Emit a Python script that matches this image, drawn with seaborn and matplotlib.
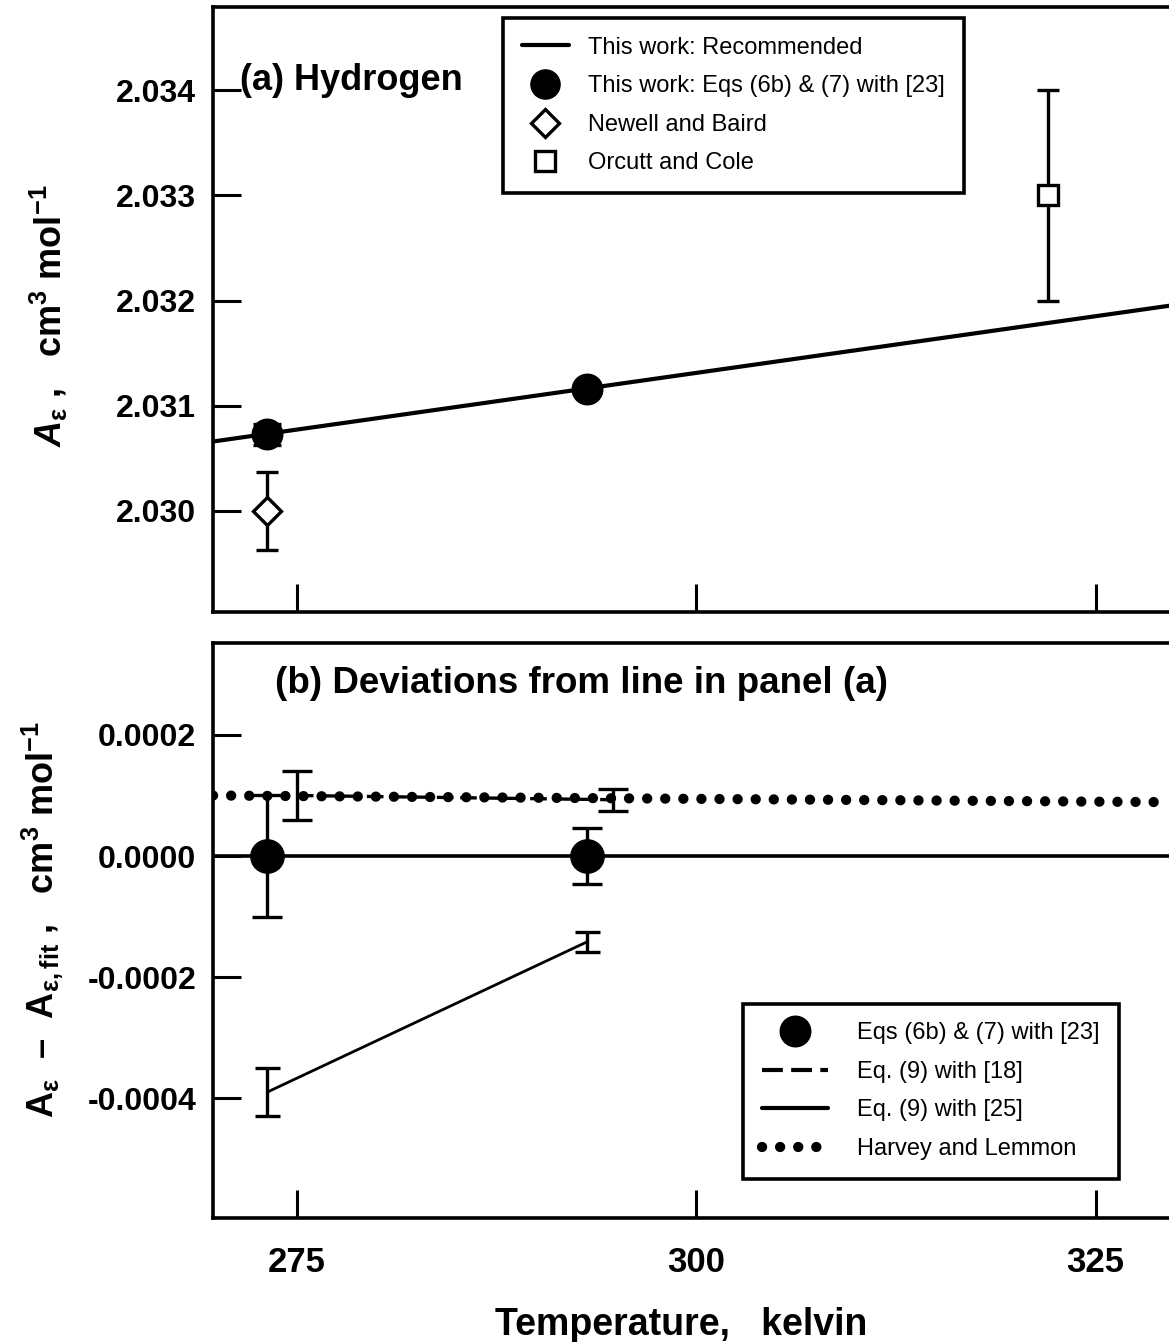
import numpy as np
import pandas as pd
import matplotlib
matplotlib.use('Agg')
import matplotlib.pyplot as plt
from matplotlib.lines import Line2D
from matplotlib.ticker import FormatStrFormatter
import seaborn as sns

### DATA

# panel (a) : A_eps of hydrogen
line_T = [269.75, 329.6]          # recommended line
line_A = [2.03066, 2.03195]

ours_T = [273.15, 293.15]         # Eqs (6b) & (7) with [23]
ours_A = [2.03073, 2.03116]
ours_err = [0.0001, 0.00003]

newell_T = [273.15]
newell_A = [2.0300]
newell_err = [0.00037]

orcutt_T = [322.0]
orcutt_A = [2.0330]
orcutt_err = [0.0010]

# panel (b) : deviations from the line in panel (a)
zero_T = [269.75, 329.6]
zero_dev = [0.0, 0.0]

dev_ours_T = [273.15, 293.15]
dev_ours = [0.0, 0.0]
dev_ours_err = [0.0001, 0.000046]

eq9_18_T = [275.0, 294.8]
eq9_18 = [0.0001, 0.000093]
eq9_18_err = [0.00004, 0.000018]

eq9_25_T = [273.15, 293.15]
eq9_25 = [-0.00039, -0.000142]
eq9_25_err = [0.00004, 0.000017]

hl_T = [269.75, 329.6]
hl_dev = [0.0001, 0.000089]

labels_a = ['This work: Recommended', 'This work: Eqs (6b) & (7) with [23]',
            'Newell and Baird', 'Orcutt and Cole']
labels_b = ['Eqs (6b) & (7) with [23]', 'Eq. (9) with [18]',
            'Eq. (9) with [25]', 'Harvey and Lemmon']

xticks = [275, 300, 325]
yticks_a = [2.030, 2.031, 2.032, 2.033, 2.034]
yticks_b = [-0.0004, -0.0002, 0.0, 0.0002]

### STYLE

sns.set_style('ticks')
plt.rcParams['font.family'] = ['Liberation Sans', 'DejaVu Sans']
plt.rcParams['font.weight'] = 'bold'
plt.rcParams['mathtext.fontset'] = 'custom'
plt.rcParams['mathtext.rm'] = 'Liberation Sans:bold'
plt.rcParams['mathtext.bf'] = 'Liberation Sans:bold'
plt.rcParams['mathtext.it'] = 'Liberation Sans:italic:bold'
plt.rcParams['mathtext.default'] = 'rm'
plt.rcParams['axes.linewidth'] = 2.6
for key in ['text.color', 'axes.edgecolor', 'axes.labelcolor',
            'xtick.color', 'ytick.color']:
    plt.rcParams[key] = 'black'

dotted = (0, (0.01, 1.75))
dashed = (0, (5, 2))
eb = dict(ecolor='k', elinewidth=2.4, capthick=2.4, ls='none')

fig = plt.figure(figsize=(11.69, 13.42), dpi=100)
ax_a = fig.add_axes([0.1822, 0.544, 0.8178, 0.4508])
ax_b = fig.add_axes([0.1822, 0.0924, 0.8178, 0.4285], sharex=ax_a)

### PANEL (a)

sns.lineplot(x=line_T, y=line_A, ax=ax_a, color='k', lw=3.0)
ax_a.errorbar(ours_T, ours_A, yerr=ours_err, fmt='o', ms=22, mfc='k', mec='k',
              capsize=10, **eb)
ax_a.errorbar(newell_T, newell_A, yerr=newell_err, fmt='D', ms=14.5, mfc='white',
              mec='k', mew=2.4, capsize=8, **eb)
ax_a.errorbar(orcutt_T, orcutt_A, yerr=orcutt_err, fmt='s', ms=15, mfc='white',
              mec='k', mew=2.4, capsize=8, **eb)

ax_a.set_xlim(269.75, 329.6)
ax_a.set_ylim(2.02904, 2.03479)
ax_a.set_yticks(yticks_a)
ax_a.yaxis.set_major_formatter(FormatStrFormatter('%.3f'))
ax_a.set_xticks(xticks)
ax_a.tick_params(axis='x', labelbottom=False)
ax_a.set_ylabel(r'$\mathit{A}_{ε}$ ,   cm$^{3}$ mol$^{-1}$', fontsize=26,
                fontweight='bold')
ax_a.yaxis.set_label_coords(-0.15, 0.49)
ax_a.text(0.028, 0.879, '(a) Hydrogen', transform=ax_a.transAxes, fontsize=26,
          fontweight='bold', va='center', ha='left')

handles_a = [Line2D([], [], color='k', lw=3.0),
             Line2D([], [], ls='none', marker='o', ms=21, mfc='k', mec='k'),
             Line2D([], [], ls='none', marker='D', ms=14, mfc='white', mec='k', mew=2.4),
             Line2D([], [], ls='none', marker='s', ms=15, mfc='white', mec='k', mew=2.4)]
leg_a = ax_a.legend(handles_a, labels_a, loc='upper left',
                    bbox_to_anchor=(0.3033, 0.982), borderaxespad=0,
                    prop={'size': 17, 'weight': 'normal'}, handlelength=2.0,
                    handletextpad=0.8, labelspacing=0.7, borderpad=0.8,
                    fancybox=False, framealpha=1, edgecolor='k')
leg_a.get_frame().set_linewidth(2.6)

### PANEL (b)

sns.lineplot(x=zero_T, y=zero_dev, ax=ax_b, color='k', lw=2.6)
sns.lineplot(x=eq9_25_T, y=eq9_25, ax=ax_b, color='k', lw=2.0)
sns.lineplot(x=eq9_18_T, y=eq9_18, ax=ax_b, color='k', lw=2.4, linestyle=dashed)
sns.lineplot(x=hl_T, y=hl_dev, ax=ax_b, color='k', lw=7.4, linestyle=dotted,
             dash_capstyle='round')
ax_b.errorbar(dev_ours_T, dev_ours, yerr=dev_ours_err, fmt='o', ms=24, mfc='k',
              mec='k', capsize=11, **eb)
ax_b.errorbar(eq9_18_T, eq9_18, yerr=eq9_18_err, fmt='none', capsize=11, **eb)
ax_b.errorbar(eq9_25_T, eq9_25, yerr=eq9_25_err, fmt='none', capsize=9, **eb)

ax_b.set_ylim(-0.000598, 0.000352)
ax_b.set_yticks(yticks_b)
ax_b.yaxis.set_major_formatter(FormatStrFormatter('%.4f'))
ax_b.set_xticks(xticks)
ax_b.set_ylabel(r'A$_{ε}$  –  A$_{ε\mathrm{,fit}}$ ,   cm$^{3}$ mol$^{-1}$',
                fontsize=26, fontweight='bold')
ax_b.yaxis.set_label_coords(-0.155, 0.52)
ax_b.set_xlabel('Temperature,   kelvin', fontsize=27, fontweight='bold')
ax_b.xaxis.set_label_coords(0.49, -0.155)
ax_b.text(0.065, 0.930, '(b) Deviations from line in panel (a)',
          transform=ax_b.transAxes, fontsize=26.5, fontweight='bold',
          va='center', ha='left')

handles_b = [Line2D([], [], ls='none', marker='o', ms=22, mfc='k', mec='k'),
             Line2D([], [], color='k', lw=3.0, ls=dashed),
             Line2D([], [], color='k', lw=3.0),
             Line2D([], [], color='k', lw=7.4, ls=dotted, dash_capstyle='round')]
leg_b = ax_b.legend(handles_b, labels_b, loc='upper left',
                    bbox_to_anchor=(0.554, 0.373), borderaxespad=0,
                    prop={'size': 17, 'weight': 'normal'}, handlelength=2.8,
                    handletextpad=1.25, labelspacing=0.7, borderpad=0.8,
                    fancybox=False, framealpha=1, edgecolor='k')
leg_b.get_frame().set_linewidth(2.6)

for ax in (ax_a, ax_b):
    ax.spines['right'].set_visible(False)
    ax.tick_params(axis='both', direction='in', length=20, width=2.2,
                   top=False, right=False)
    ax.tick_params(axis='y', labelsize=23, pad=12)
    ax.tick_params(axis='x', labelsize=25, pad=20)

fig.savefig('out.png', dpi=100)
